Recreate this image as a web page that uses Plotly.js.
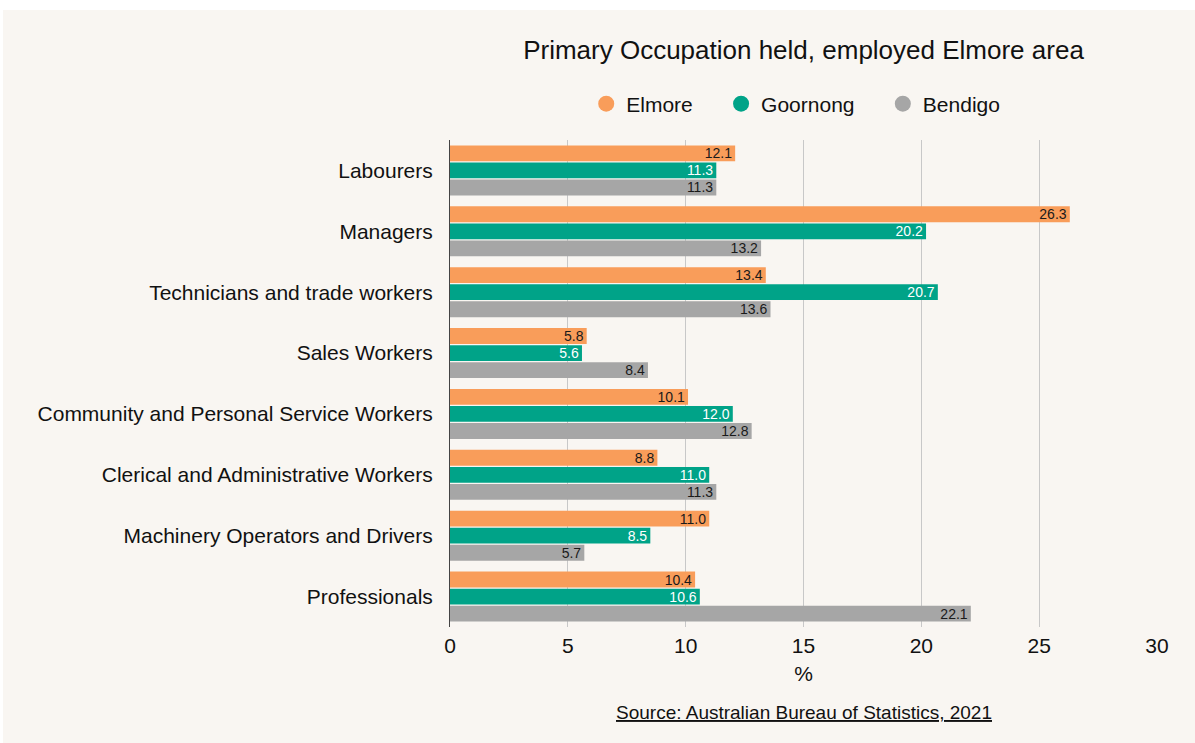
<!DOCTYPE html>
<html>
<head>
<meta charset="utf-8">
<script src="https://cdn.plot.ly/plotly-3.0.1.min.js"></script>
<style>
  html, body { margin: 0; padding: 0; background: #ffffff; }
  #chart { position: absolute; left: 3px; top: 10px; width: 1192px; height: 733px; }
</style>
</head>
<body>
<div id="chart"></div>
<script>
const categories = [
  "Labourers",
  "Managers",
  "Technicians and trade workers",
  "Sales Workers",
  "Community and Personal Service Workers",
  "Clerical and Administrative Workers",
  "Machinery Operators and Drivers",
  "Professionals"
];
const elmore   = [12.1, 26.3, 13.4, 5.8, 10.1, 8.8, 11.0, 10.4];
const goornong = [11.3, 20.2, 20.7, 5.6, 12.0, 11.0, 8.5, 10.6];
const bendigo  = [11.3, 13.2, 13.6, 8.4, 12.8, 11.3, 5.7, 22.1];
const seriesNames = ["Elmore", "Goornong", "Bendigo"];
const xTicks = [0, 5, 10, 15, 20, 25, 30];

const colors = ["#F99D5A", "#00A388", "#A6A6A6"];
const textColors = ["#1a1a1a", "#ffffff", "#1a1a1a"];
const FONT = "Liberation Sans, Arial, Helvetica, sans-serif";

const seriesData = [elmore, goornong, bendigo];
const traces = [];
seriesData.forEach((vals, i) => {
  traces.push({
    type: "bar",
    orientation: "h",
    name: seriesNames[i],
    y: categories,
    x: vals,
    marker: { color: colors[i] },
    text: vals.map(v => v.toFixed(1)),
    textposition: "inside",
    insidetextanchor: "end",
    textangle: 0,
    textfont: { family: FONT, size: 14, color: textColors[i] },
    constraintext: "none",
    showlegend: false,
    hoverinfo: "x+name"
  });
});
const PAD = "\u00A0\u00A0\u00A0\u00A0";
seriesData.forEach((vals, i) => {
  traces.push({
    type: "scatter",
    mode: "markers",
    name: seriesNames[i] + (i < seriesData.length - 1 ? PAD : ""),
    x: [null],
    y: [null],
    marker: { color: colors[i], size: 20, symbol: "circle" },
    showlegend: true,
    hoverinfo: "skip"
  });
});

const PT = 130, PB = 116, PH = 733 - PT - PB;
const layout = {
  width: 1192,
  height: 733,
  paper_bgcolor: "#F9F6F2",
  plot_bgcolor: "#F9F6F2",
  font: { family: FONT, color: "#1a1a1a" },
  margin: { l: 447, r: 38, t: PT, b: PB },
  barmode: "group",
  bargap: 0.16,
  bargroupgap: 0.07,
  title: {
    text: "Primary Occupation held, employed Elmore area",
    font: { family: FONT, size: 26, color: "#111" },
    x: 0.5, xref: "paper", xanchor: "center",
    y: 1 - 40 / 733, yref: "container", yanchor: "middle"
  },
  legend: {
    orientation: "h",
    x: 0.489, xanchor: "center",
    y: 1 + (PT - 94) / PH, yanchor: "middle",
    font: { family: FONT, size: 21, color: "#111" },
    bgcolor: "rgba(0,0,0,0)",
    itemwidth: 30,
    traceorder: "normal"
  },
  xaxis: {
    range: [0, 30],
    tickvals: xTicks,
    ticktext: xTicks.map(String),
    showgrid: true,
    gridcolor: "#C8C8C8",
    gridwidth: 1,
    zeroline: false,
    showline: false,
    ticks: "",
    ticklabelstandoff: 4,
    tickfont: { family: FONT, size: 21, color: "#111" },
    title: { text: "%", font: { family: FONT, size: 21, color: "#111" }, standoff: 10 },
    fixedrange: true
  },
  yaxis: {
    type: "category",
    autorange: "reversed",
    showgrid: false,
    zeroline: false,
    showline: true,
    linecolor: "#444",
    linewidth: 1,
    ticks: "",
    ticklabelstandoff: 12,
    tickfont: { family: FONT, size: 21, color: "#111" },
    fixedrange: true
  },
  annotations: [{
    text: "<u>Source: Australian Bureau of Statistics, 2021</u>",
    xref: "paper", yref: "paper",
    x: 0.5, xanchor: "center",
    y: -(702 - (733 - PB)) / PH, yanchor: "middle",
    showarrow: false,
    font: { family: FONT, size: 19, color: "#111" }
  }]
};

Plotly.newPlot("chart", traces, layout, { displayModeBar: false, responsive: false });
</script>
</body>
</html>
